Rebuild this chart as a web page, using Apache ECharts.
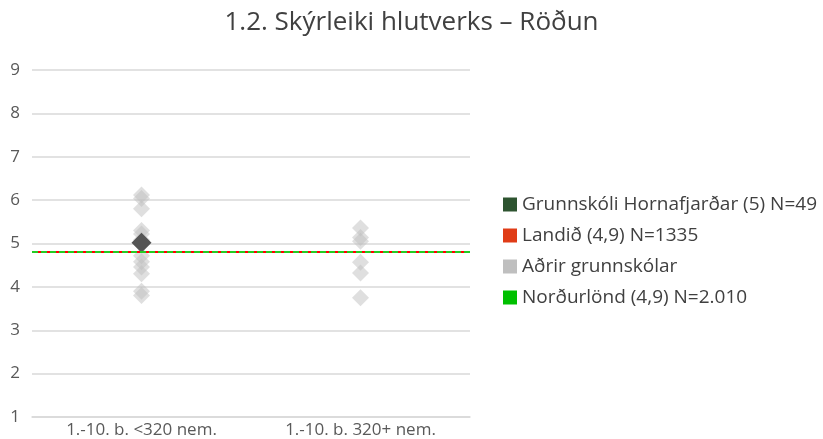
<!DOCTYPE html>
<html>
<head>
<meta charset="utf-8">
<script src="https://cdn.jsdelivr.net/npm/echarts@6/dist/echarts.min.js"></script>
<style>
  html, body { margin: 0; padding: 0; background: #fff; }
  #chart { width: 823px; height: 439px; }
</style>
</head>
<body>
<div id="chart"></div>
<script>
// flokkar á x-ás
var categories = ['1.-10. b. <320 nem.', '1.-10. b. 320+ nem.'];
// skólinn sjálfur
var schoolPoints = [[0, 5.02]];
// aðrir grunnskólar
var otherPoints = [
    [0, 6.12], [0, 6.04], [0, 5.8], [0, 5.3], [0, 5.22], [0, 5.08],
    [0, 4.72], [0, 4.58], [0, 4.46], [0, 4.3], [0, 3.9], [0, 3.8],
    [1, 5.36], [1, 5.14], [1, 5.05], [1, 4.57], [1, 4.32], [1, 3.75]
];
var landValue = 4.82;
var nordValue = 4.82;
var yTicks = [1, 9];

var seriesNames = [
    'Grunnskóli Hornafjarðar (5) N=49',
    'Landið (4,9) N=1335',
    'Aðrir grunnskólar',
    'Norðurlönd (4,9) N=2.010'
];

var txt = '#595959';
var font = '"Open Sans", sans-serif';

var myChart = echarts.init(document.getElementById('chart'));
var option = {
    animation: false,
    title: {
        text: '1.2. Skýrleiki hlutverks – Röðun',
        left: 'center',
        top: 5,
        textStyle: { fontFamily: font, fontSize: 26, fontWeight: 'normal', color: '#404040' }
    },
    legend: {
        orient: 'vertical',
        left: 498,
        top: 190,
        icon: 'rect',
        itemWidth: 14,
        itemHeight: 14,
        itemGap: 12,
        itemStyle: { opacity: 1 },
        textStyle: { fontFamily: font, fontSize: 19, color: '#404040' }
    },
    grid: { left: 32, right: 353, top: 70, bottom: 21 },
    xAxis: {
        type: 'category',
        data: categories,
        axisLine: { lineStyle: { color: '#d9d9d9', width: 1.5 } },
        axisTick: { show: false },
        axisLabel: { fontFamily: font, fontSize: 17, color: txt, margin: 5 }
    },
    yAxis: {
        type: 'value',
        min: yTicks[0],
        max: yTicks[1],
        interval: 1,
        axisLine: { show: false },
        axisTick: { show: false },
        axisLabel: { fontFamily: font, fontSize: 17, color: txt, margin: 12 },
        splitLine: { lineStyle: { color: '#d9d9d9', width: 1.5 } }
    },
    series: [
        {
            name: seriesNames[1],
            type: 'line',
            data: [],
            itemStyle: { color: '#e03c17' },
            z: 1,
            markLine: {
                silent: true,
                symbol: 'none',
                label: { show: false },
                lineStyle: { color: '#ff0000', width: 2, type: 'solid', opacity: 1 },
                data: [{ yAxis: landValue }]
            }
        },
        {
            name: seriesNames[3],
            type: 'line',
            data: [],
            itemStyle: { color: '#00c000' },
            z: 2,
            markLine: {
                silent: true,
                symbol: 'none',
                label: { show: false },
                lineStyle: { color: '#22cc22', width: 2, type: [6, 3], opacity: 1 },
                data: [{ yAxis: nordValue }]
            }
        },
        {
            name: seriesNames[2],
            type: 'scatter',
            symbol: 'diamond',
            symbolSize: 17,
            data: otherPoints,
            itemStyle: { color: '#bfbfbf', opacity: 0.5 },
            z: 3
        },
        {
            name: seriesNames[0],
            type: 'scatter',
            symbol: 'diamond',
            symbolSize: 20,
            data: schoolPoints,
            itemStyle: { color: '#555555', opacity: 1 },
            z: 4
        }
    ]
};
option.legend.data = [
    { name: seriesNames[0], itemStyle: { color: '#2e5430', opacity: 1 } },
    { name: seriesNames[1], itemStyle: { color: '#e03c17', opacity: 1 } },
    { name: seriesNames[2], itemStyle: { color: '#bfbfbf', opacity: 1 } },
    { name: seriesNames[3], itemStyle: { color: '#00c000', opacity: 1 } }
];
myChart.setOption(option);
</script>
</body>
</html>
